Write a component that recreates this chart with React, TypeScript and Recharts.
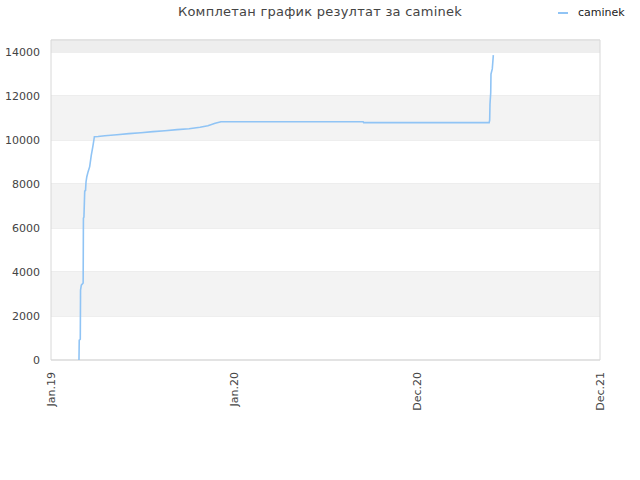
import React from "react";
import { LineChart, Line, XAxis, YAxis, CartesianGrid, ReferenceArea } from "recharts";

const xTickValues = [0, 350, 700, 1050];
const xTickLabels = ["Jan.19", "Jan.20", "Dec.20", "Dec.21"];
const yTicks = [0, 2000, 4000, 6000, 8000, 10000, 12000, 14000];
const yMax = 14545;

const days = [
  53.5, 54, 55, 56, 56.5, 58, 61.5, 62, 63, 64.5, 66, 67, 68.5, 71, 74, 77, 80, 83,
  90, 103, 126, 149, 172, 195, 218, 241, 264, 285, 300, 314, 325, 597, 598, 838,
  839, 839.6, 841, 841.5, 844, 846,
];
const scores = [
  0, 900, 920, 950, 3180, 3400, 3500, 6450, 6500, 7680, 7700, 8100, 8330, 8560, 8790,
  9300, 9700, 10150, 10160, 10190, 10240, 10290, 10330, 10380, 10420, 10470, 10510,
  10580, 10650, 10760, 10830, 10830, 10790, 10790, 10900, 11640, 12150, 13000, 13230,
  13860,
];

const data = days.map((d, i) => ({ day: d, caminek: scores[i] }));

const bands = [
  [2000, 4000, "#f3f3f3"],
  [6000, 8000, "#f3f3f3"],
  [10000, 12000, "#f3f3f3"],
  [14000, yMax, "#eeeeee"],
] as const;

const XTick = (props: any) => {
  const { x, payload } = props;
  const idx = xTickValues.indexOf(payload.value);
  const ax = x;
  const ay = 372;
  return (
    <text
      x={ax}
      y={ay}
      transform={`rotate(-90, ${ax}, ${ay})`}
      textAnchor="end"
      dy={4}
      fontSize={11}
      fill="#444"
      fontFamily="DejaVu Sans, sans-serif"
    >
      {xTickLabels[idx]}
    </text>
  );
};

const YTick = (props: any) => {
  const { y, payload } = props;
  return (
    <text x={40} y={y} dy={4} textAnchor="end" fontSize={11} fill="#444" fontFamily="DejaVu Sans, sans-serif">
      {payload.value}
    </text>
  );
};

export default function App() {
  return (
    <div style={{ position: "absolute", left: 0, top: 0, width: 640, height: 480, background: "#fff" }}>
      <div
        style={{
          position: "absolute",
          top: 4,
          left: 0,
          width: 640,
          textAlign: "center",
          fontFamily: "DejaVu Sans, sans-serif",
          fontSize: 13,
          letterSpacing: 0.25,
          color: "#444",
        }}
      >
        Комплетан график резултат за caminek
      </div>
      <div
        style={{
          position: "absolute",
          top: 6,
          left: 558,
          display: "flex",
          alignItems: "center",
          fontFamily: "DejaVu Sans, sans-serif",
          fontSize: 11,
          color: "#222",
          zIndex: 2,
        }}
      >
        <div style={{ width: 10, height: 2, background: "#90c4f5", marginRight: 10 }} />
        <span>caminek</span>
      </div>
      <LineChart width={640} height={480} data={data} margin={{ top: 40, right: 40, left: 0, bottom: 0 }}>
        {bands.map(([a, b, c], i) => (
          <ReferenceArea key={i} y1={a} y2={b} x1={0} x2={1050} fill={c} fillOpacity={1} stroke="none" ifOverflow="hidden" />
        ))}
        <CartesianGrid vertical={false} stroke="#dddddd" />
        <ReferenceArea x1={0} x2={1050} y1={0} y2={yMax} fill="none" stroke="#d8d8d8" strokeWidth={1} />
        <XAxis
          dataKey="day"
          type="number"
          domain={[0, 1050]}
          ticks={xTickValues}
          tick={<XTick />}
          axisLine={false}
          tickLine={false}
          height={120}
          interval={0}
        />
        <YAxis
          type="number"
          domain={[0, yMax]}
          ticks={yTicks}
          tick={<YTick />}
          axisLine={false}
          tickLine={false}
          width={51}
          interval={0}
        />
        <Line
          type="linear"
          dataKey="caminek"
          stroke="#90c4f5"
          strokeWidth={1.6}
          dot={false}
          isAnimationActive={false}
        />
      </LineChart>
    </div>
  );
}
